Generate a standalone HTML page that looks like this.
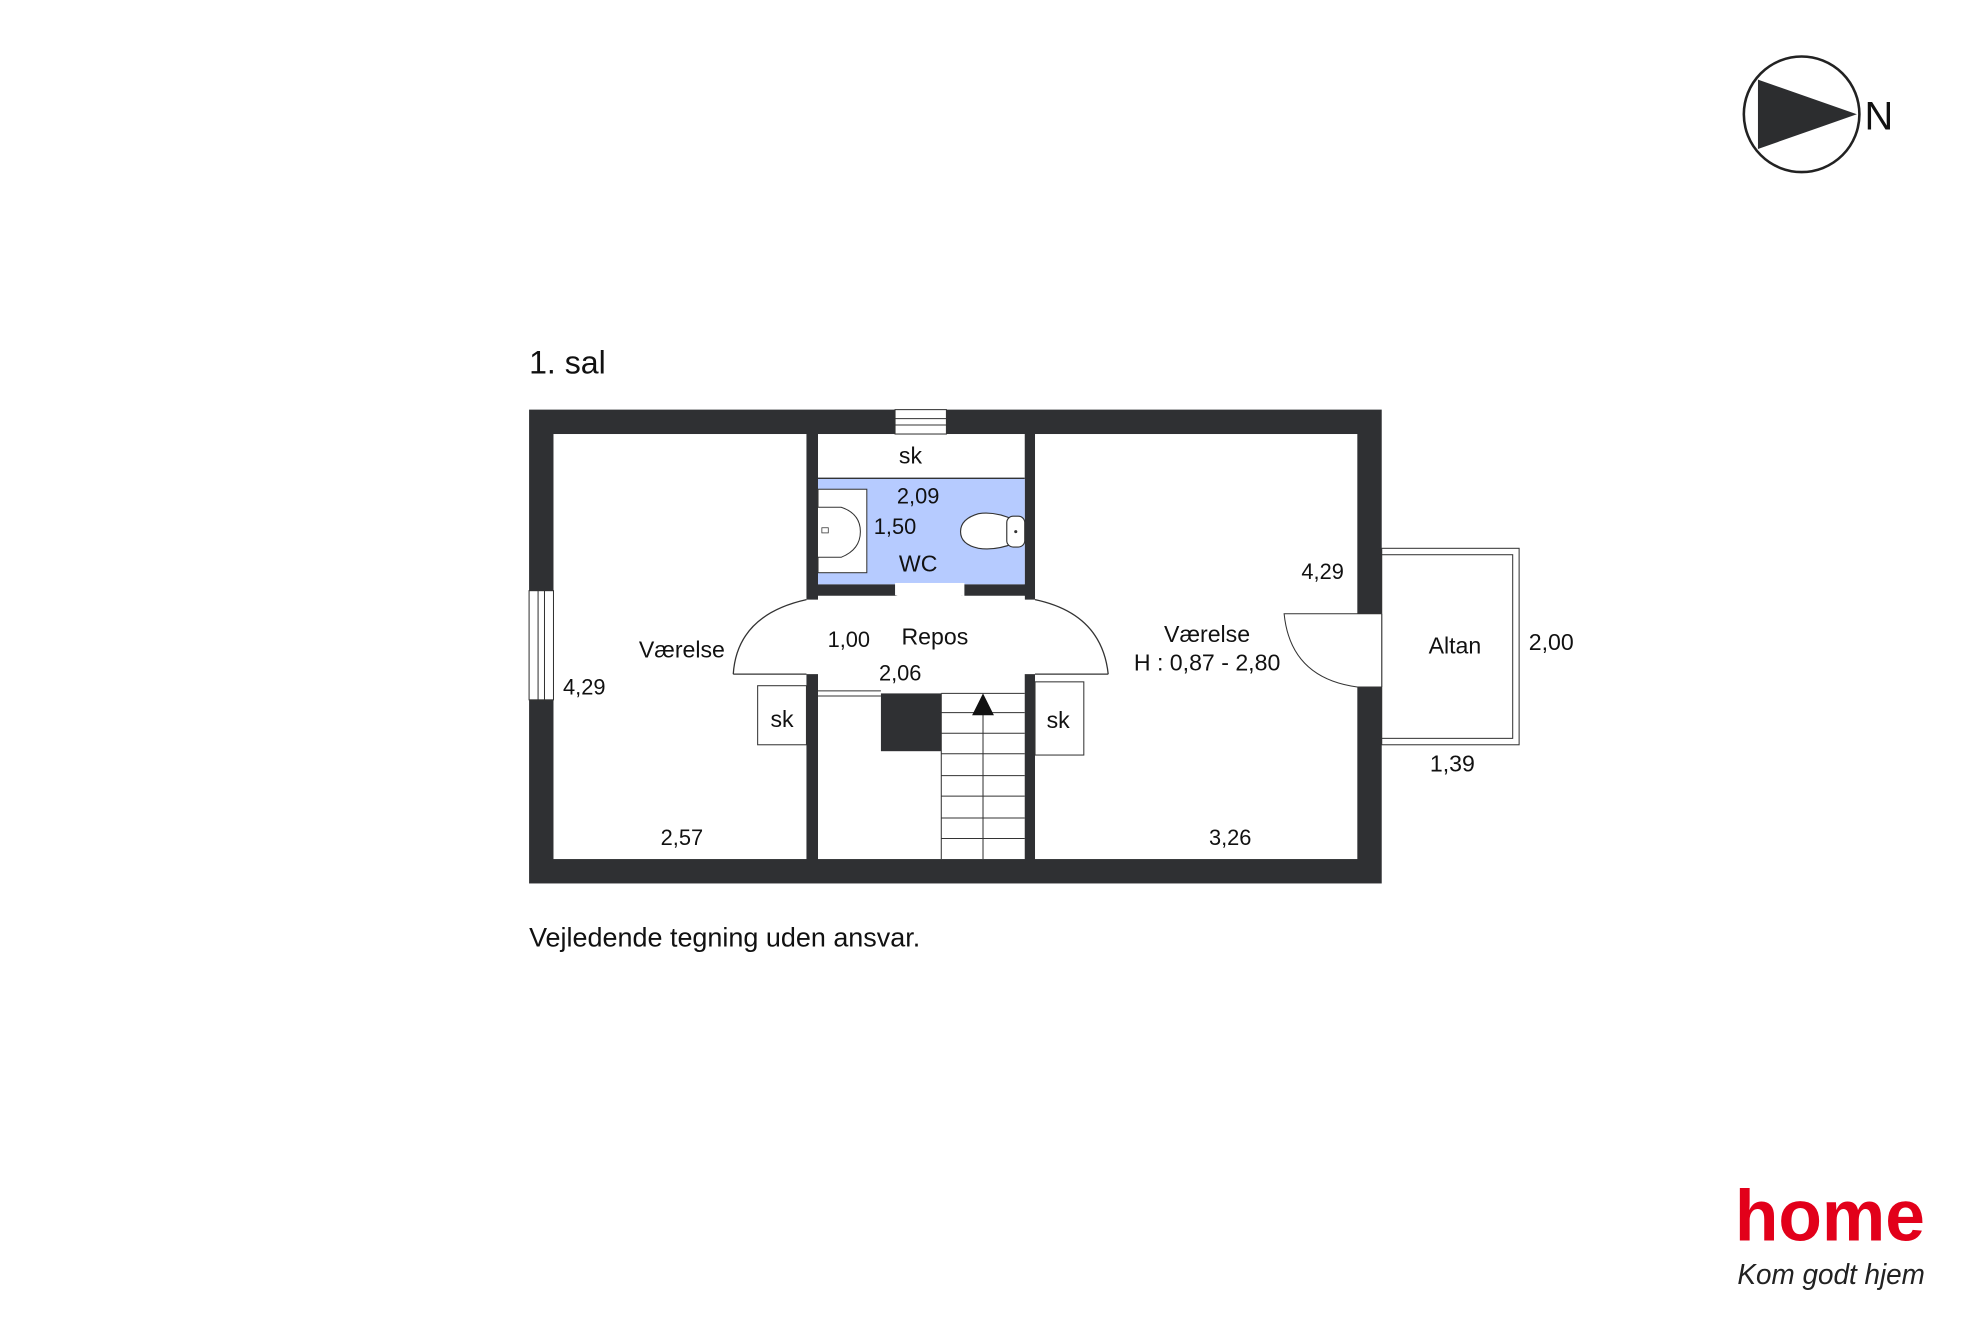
<!DOCTYPE html>
<html><head><meta charset="utf-8"><style>
html,body{margin:0;padding:0;background:#fff;}
svg{display:block;}
text{font-family:"Liberation Sans",sans-serif;fill:#111;}
</style></head><body>
<svg width="1984" height="1323" viewBox="0 0 1545 1030.3" xmlns="http://www.w3.org/2000/svg">
<rect width="1545" height="1030.3" fill="#fff"/>
<!-- compass -->
<circle cx="1403" cy="89" r="45" fill="#fff" stroke="#222" stroke-width="2"/>
<polygon points="1369,62 1446,89 1369,116" fill="#2c2d2f"/>
<text x="1452" y="101" font-size="31">N</text>

<text x="412" y="291" font-size="25">1. sal</text>

<!-- outer walls -->
<rect x="412" y="319" width="664" height="369" fill="#2f3033"/>
<!-- rooms interior -->
<rect x="431" y="338" width="197" height="331" fill="#fff"/>
<rect x="637" y="338" width="161" height="117" fill="#fff"/>
<rect x="637" y="372" width="161" height="83" fill="#b6cbff"/>
<line x1="637" y1="372.5" x2="798" y2="372.5" stroke="#333" stroke-width="1"/>
<rect x="637" y="464" width="161" height="205" fill="#fff"/>
<rect x="806" y="338" width="251" height="331" fill="#fff"/>
<!-- WC door gap -->
<rect x="697" y="454" width="54" height="11" fill="#fff"/>
<path d="M697,464 L749,480 L749,464" fill="none" stroke="#333" stroke-width="1"/>
<!-- repos openings with arcs -->
<path d="M571,525 Q574,479 628,467 L637,467 L637,464 L798,464 L798,467 L806,467 Q858,478 863,525 L806,525 L798,525 L637,525 L628,525 Z" fill="#fff"/>
<path d="M571,525 Q574,479 628,467" fill="none" stroke="#333" stroke-width="1"/>
<path d="M806,467 Q858,478 863,525" fill="none" stroke="#333" stroke-width="1"/>
<line x1="571" y1="525" x2="628" y2="525" stroke="#333" stroke-width="1"/>
<line x1="806" y1="525" x2="863" y2="525" stroke="#333" stroke-width="1"/>
<!-- top window -->
<rect x="697" y="319" width="40" height="19" fill="#fff" stroke="#333" stroke-width="0.8"/>
<line x1="697" y1="326" x2="737" y2="326" stroke="#333" stroke-width="0.8"/>
<line x1="697" y1="331" x2="737" y2="331" stroke="#333" stroke-width="0.8"/>
<!-- left window -->
<rect x="412" y="460" width="19" height="85" fill="#fff" stroke="#333" stroke-width="0.8"/>
<line x1="419" y1="460" x2="419" y2="545" stroke="#333" stroke-width="0.8"/>
<line x1="424" y1="460" x2="424" y2="545" stroke="#333" stroke-width="0.8"/>
<!-- sink -->
<rect x="637" y="381" width="38" height="65" fill="#fff" stroke="#333" stroke-width="0.8"/>
<path d="M637,395 L655,395 Q670,400 670,414 Q670,428 655,434 L637,434" fill="#fff" stroke="#333" stroke-width="0.8"/>
<rect x="640" y="411" width="5" height="4" fill="#fff" stroke="#333" stroke-width="0.6"/>
<!-- toilet -->
<path d="M790,405 Q775,398 762,400 Q748,404 748,414 Q748,424 762,427 Q775,429 790,423 Z" fill="#fff" stroke="#333" stroke-width="0.9"/>
<rect x="784" y="402" width="14" height="24" rx="5" fill="#fff" stroke="#333" stroke-width="0.9"/>
<circle cx="791" cy="414" r="1.2" fill="#333"/>
<!-- stairs area -->
<line x1="637" y1="538" x2="686" y2="538" stroke="#333" stroke-width="0.8"/>
<line x1="637" y1="542" x2="686" y2="542" stroke="#333" stroke-width="0.8"/>
<rect x="686" y="540" width="47" height="45" fill="#2f3033"/>
<line x1="733" y1="540" x2="733" y2="669" stroke="#333" stroke-width="0.8"/>
<line x1="733" y1="540" x2="798" y2="540" stroke="#333" stroke-width="0.8"/>
<g stroke="#333" stroke-width="0.8">
<line x1="733" y1="555" x2="798" y2="555"/><line x1="733" y1="571" x2="798" y2="571"/>
<line x1="733" y1="587" x2="798" y2="587"/><line x1="733" y1="604" x2="798" y2="604"/>
<line x1="733" y1="620" x2="798" y2="620"/><line x1="733" y1="637" x2="798" y2="637"/>
<line x1="733" y1="653" x2="798" y2="653"/>
<line x1="765.5" y1="555" x2="765.5" y2="669"/>
</g>
<polygon points="765.5,540 757,557 774,557" fill="#111"/>
<!-- sk boxes -->
<rect x="590" y="534" width="38" height="46" fill="#fff" stroke="#333" stroke-width="0.8"/>
<rect x="806" y="531" width="38" height="57" fill="#fff" stroke="#333" stroke-width="0.8"/>
<!-- altan -->
<rect x="1076" y="427" width="107" height="153" fill="#fff" stroke="#333" stroke-width="0.8"/>
<rect x="1076" y="432" width="102" height="143" fill="#fff" stroke="#333" stroke-width="0.8"/>
<!-- right door -->
<rect x="1057" y="478" width="19" height="57" fill="#fff"/>
<path d="M1076,478 L1000,478 Q1005,528 1057,535 L1076,535" fill="#fff" stroke="#333" stroke-width="0.8"/>
<line x1="1076" y1="478" x2="1076" y2="535" stroke="#333" stroke-width="0.8"/>

<!-- labels -->
<g font-size="18">
<text x="709" y="361" text-anchor="middle">sk</text>
<text x="715" y="392" text-anchor="middle" font-size="17">2,09</text>
<text x="697" y="416" text-anchor="middle" font-size="17">1,50</text>
<text x="715" y="445" text-anchor="middle">WC</text>
<text x="531" y="512" text-anchor="middle">Værelse</text>
<text x="661" y="504" text-anchor="middle" font-size="17">1,00</text>
<text x="728" y="502" text-anchor="middle">Repos</text>
<text x="701" y="530" text-anchor="middle" font-size="17">2,06</text>
<text x="455" y="541" text-anchor="middle" font-size="17">4,29</text>
<text x="609" y="566" text-anchor="middle">sk</text>
<text x="824" y="567" text-anchor="middle">sk</text>
<text x="531" y="658" text-anchor="middle" font-size="17">2,57</text>
<text x="958" y="658" text-anchor="middle" font-size="17">3,26</text>
<text x="940" y="500" text-anchor="middle">Værelse</text>
<text x="940" y="522" text-anchor="middle">H : 0,87 - 2,80</text>
<text x="1030" y="451" text-anchor="middle" font-size="17">4,29</text>
<text x="1133" y="509" text-anchor="middle">Altan</text>
<text x="1208" y="506" text-anchor="middle">2,00</text>
<text x="1131" y="601" text-anchor="middle">1,39</text>
</g>
<text x="412" y="737" font-size="21">Vejledende tegning uden ansvar.</text>

<!-- logo -->
<text x="1351" y="966" font-size="56" font-weight="bold" style="fill:#e2001a" textLength="148" lengthAdjust="spacingAndGlyphs">home</text>
<text x="1353" y="1000" font-size="22" font-style="italic" font-family="Liberation Serif,serif" style="fill:#222" textLength="146" lengthAdjust="spacingAndGlyphs">Kom godt hjem</text>
</svg>
</body></html>
